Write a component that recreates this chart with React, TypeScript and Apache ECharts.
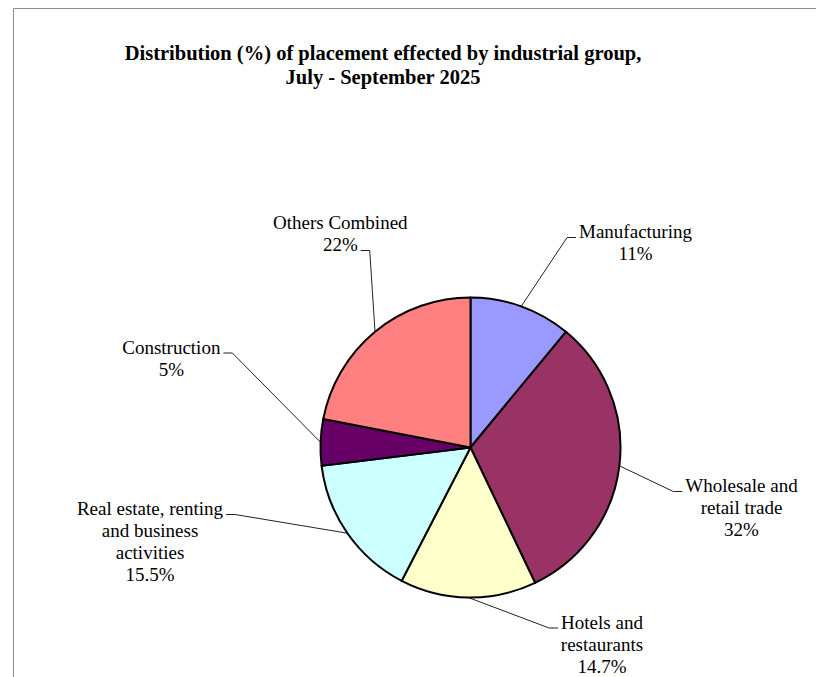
import React, { useEffect, useRef } from 'react';
import * as echarts from 'echarts';

const categories = [
  'Manufacturing',
  'Wholesale and\nretail trade',
  'Hotels and\nrestaurants',
  'Real estate, renting\nand business\nactivities',
  'Construction',
  'Others Combined',
];
const values = [11, 32, 14.7, 15.5, 5, 22];
const colors = ['#9999FF', '#993366', '#FFFFCC', '#CCFFFF', '#660066', '#FF8080'];
const titleLines = [
  'Distribution (%) of placement effected by industrial group,',
  'July - September 2025',
];

// Label placement (layout only): block centre x, block top y, the text line the leader joins, and the side
const labelPlaces = [
  { x: 635.5, y: 220.5, line: 0, side: 'left' },
  { x: 741.5, y: 474.5, line: 0, side: 'left' },
  { x: 602, y: 611, line: 0, side: 'left' },
  { x: 150, y: 497.5, line: 0, side: 'right' },
  { x: 171.3, y: 336, line: 0, side: 'right' },
  { x: 340.3, y: 211.5, line: 1, side: 'right' },
];

const SERIF = "'Liberation Serif', 'Times New Roman', serif";
const FS = 19;
const LH = 22;

function labelText(i: number) {
  return `${categories[i]}\n${values[i]}%`;
}

export default function App() {
  const ref = useRef<HTMLDivElement>(null);
  useEffect(() => {
    if (!ref.current) return;
    const chart = echarts.init(ref.current, undefined, { renderer: 'svg' });
    const canvas = document.createElement('canvas');
    const ctx = canvas.getContext('2d')!;
    ctx.font = `${FS}px ${SERIF}`;

    chart.setOption({
      animation: false,
      backgroundColor: '#ffffff',
      graphic: [
        {
          type: 'rect',
          silent: true,
          shape: { x: 13.5, y: 8.5, width: 1200, height: 1200 },
          style: { fill: 'none', stroke: '#8c8c8c', lineWidth: 1 },
        },
        {
          type: 'text',
          x: 383,
          y: 41,
          style: {
            text: titleLines.join('\n'),
            fontFamily: SERIF,
            fontSize: 20.5,
            fontWeight: 'bold',
            lineHeight: 24,
            fill: '#000',
            align: 'center',
            verticalAlign: 'top',
          },
        },
      ],
      series: [
        {
          type: 'pie',
          center: [470.5, 447.5],
          radius: 150,
          startAngle: 90,
          clockwise: true,
          avoidLabelOverlap: false,
          emphasis: { disabled: true },
          itemStyle: { borderColor: '#000', borderWidth: 2 },
          label: {
            show: true,
            position: 'outside',
            formatter: (p: any) => labelText(p.dataIndex),
            fontFamily: SERIF,
            fontSize: FS,
            lineHeight: LH,
            color: '#000',
          },
          labelLine: {
            show: true,
            length: 10,
            length2: 10,
            smooth: false,
            lineStyle: { color: '#222', width: 1 },
          },
          labelLayout: (params: any) => {
            const i = params.dataIndex;
            const place = labelPlaces[i];
            const lines = labelText(i).split('\n');
            const w = ctx.measureText(lines[place.line]).width;
            const yAttach = place.y + place.line * LH + 17;
            let p2: number[];
            let p1: number[];
            if (place.side === 'left') {
              p2 = [place.x - w / 2 - 3, yAttach];
              p1 = [p2[0] - 9, yAttach];
            } else {
              p2 = [place.x + w / 2 + 3, yAttach];
              p1 = [p2[0] + 9, yAttach];
            }
            const p0 = params.labelLinePoints ? params.labelLinePoints[0] : p1;
            return {
              x: place.x,
              y: place.y,
              align: 'center',
              verticalAlign: 'top',
              labelLinePoints: [p0, p1, p2],
            };
          },
          data: categories.map((name, i) => ({
            name,
            value: values[i],
            itemStyle: { color: colors[i] },
          })),
        },
      ],
    });
    return () => chart.dispose();
  }, []);
  return (
    <div
      ref={ref}
      style={{ position: 'fixed', left: 0, top: 0, width: 816, height: 677 }}
    />
  );
}
